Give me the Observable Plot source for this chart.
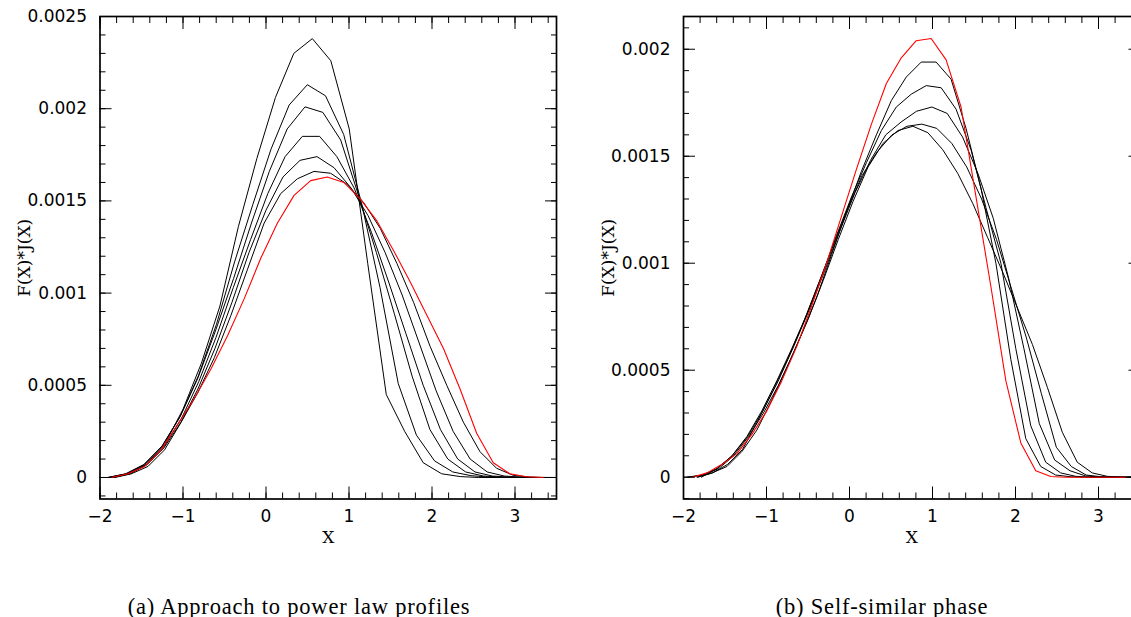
<!DOCTYPE html>
<html><head><meta charset="utf-8">
<script src="https://cdn.jsdelivr.net/npm/d3@7"></script>
<script src="https://cdn.jsdelivr.net/npm/@observablehq/plot@0.6"></script>
<style>
html,body{margin:0;padding:0;background:#fff;overflow:hidden;width:1131px;height:617px;position:relative;}
#a,#b{position:absolute;top:0;}
#a{left:0;width:570px}
#b{left:570px;width:600px}
#a svg,#b svg{max-width:none !important;height:560px !important;}
.cap{position:absolute;font-family:"Liberation Serif",serif;font-size:22.5px;letter-spacing:0.8px;line-height:1;color:#000;white-space:nowrap;transform:translateX(-50%);}
</style></head><body>
<div id="a"></div><div id="b"></div>
<div class="cap" style="left:299px;top:596px">(a) Approach to power law profiles</div>
<div class="cap" style="left:882px;top:596px">(b) Self-similar phase</div>
<script>
// ---- tick values ----
const xMajor = [-2, -1, 0, 1, 2, 3];
const leftYMajor = [0, 0.0005, 0.001, 0.0015, 0.002, 0.0025];
const rightYMajor = [0, 0.0005, 0.001, 0.0015, 0.002];
const captions = ["(a) Approach to power law profiles", "(b) Self-similar phase"];
const yLabel = "F(X)*J(X)";
const xLabel = "X";

// ---- panel (a): approach to power law profiles ----
const a1x = [-1.89,-1.67,-1.446,-1.22,-1.0,-0.778,-0.555,-0.333,-0.11,0.113,0.335,0.558,0.781,1.003,1.226,1.449,1.671,1.894,2.117,2.34,2.56,2.78,3.0,3.23,3.45];
const a1y = [0,0.00002,0.00007,0.00018,0.00037,0.00062,0.00093,0.00136,0.00173,0.00206,0.0023,0.00238,0.00226,0.00189,0.00116,0.00045,0.00025,0.00008,0.00002,0.000005,0,0,0,0,0];
const a2x = [-1.911,-1.692,-1.473,-1.254,-1.035,-0.816,-0.597,-0.378,-0.159,0.06,0.279,0.498,0.717,0.936,1.155,1.374,1.593,1.812,2.031,2.25,2.469,2.688,2.907,3.126,3.345];
const a2y = [0,0.00002,0.00007,0.00017,0.00033,0.00055,0.00083,0.00117,0.00148,0.00178,0.00202,0.00213,0.00207,0.00186,0.00148,0.00103,0.00051,0.00023,0.00009,0.00003,0.00001,0.000002,0,0,0];
const a3x = [-1.895,-1.68,-1.465,-1.25,-1.035,-0.82,-0.605,-0.39,-0.175,0.04,0.255,0.47,0.685,0.9,1.115,1.33,1.545,1.76,1.975,2.19,2.405,2.62,2.835,3.05,3.265,3.48];
const a3y = [0,0.00002,0.00007,0.00017,0.00033,0.00054,0.0008,0.00108,0.00138,0.00166,0.00189,0.00201,0.00198,0.00183,0.00153,0.00122,0.00089,0.00055,0.00026,0.0001,0.00003,0.000008,0.000002,0,0,0];
const a4x = [-1.85,-1.642,-1.434,-1.226,-1.018,-0.81,-0.602,-0.394,-0.186,0.022,0.23,0.438,0.646,0.854,1.062,1.27,1.478,1.686,1.894,2.102,2.31,2.518,2.726,2.934,3.142,3.35];
const a4y = [0,0.00002,0.00007,0.00017,0.00032,0.00052,0.00076,0.00103,0.00129,0.00154,0.00174,0.00185,0.00185,0.00174,0.00157,0.00133,0.00106,0.00078,0.0005,0.00026,0.0001,0.00003,0.000008,0.000002,0,0];
const a5x = [-1.845,-1.64,-1.435,-1.23,-1.025,-0.82,-0.615,-0.41,-0.205,0,0.205,0.41,0.615,0.82,1.025,1.23,1.435,1.64,1.845,2.05,2.255,2.46,2.665,2.87,3.075,3.28,3.485];
const a5y = [0,0.00002,0.00007,0.00016,0.0003,0.00048,0.0007,0.00095,0.00122,0.00145,0.00163,0.00172,0.00174,0.00168,0.00157,0.00142,0.00122,0.00099,0.00073,0.00047,0.00025,0.0001,0.00003,0.000008,0.000002,0,0];
const a6x = [-1.822,-1.622,-1.422,-1.222,-1.022,-0.822,-0.622,-0.422,-0.222,-0.022,0.178,0.378,0.578,0.778,0.978,1.178,1.378,1.578,1.778,1.978,2.178,2.378,2.578,2.778,2.978,3.178,3.378];
const a6y = [0,0.00002,0.00006,0.00015,0.0003,0.00046,0.00065,0.00088,0.00113,0.00138,0.00154,0.00162,0.00166,0.00165,0.00159,0.00149,0.00135,0.00116,0.00095,0.00071,0.0005,0.0003,0.00014,0.00005,0.000012,0.000002,0];
const aRedX = [-1.862,-1.662,-1.462,-1.262,-1.062,-0.862,-0.662,-0.462,-0.262,-0.062,0.138,0.338,0.538,0.738,0.938,1.138,1.338,1.538,1.738,1.938,2.138,2.338,2.538,2.738,2.938,3.138,3.338];
const aRedY = [0,0.00002,0.00006,0.00015,0.00029,0.00043,0.00059,0.00077,0.00097,0.00119,0.00138,0.00153,0.00161,0.00163,0.0016,0.00151,0.00139,0.00123,0.00106,0.00088,0.0007,0.00048,0.00024,0.00008,0.00002,0.000004,0];

// ---- panel (b): self-similar phase ----
const b1x = [-1.836,-1.656,-1.476,-1.296,-1.116,-0.936,-0.756,-0.576,-0.396,-0.216,-0.036,0.144,0.324,0.504,0.684,0.864,1.044,1.224,1.404,1.584,1.764,1.944,2.124,2.304,2.484,2.664,2.844,3.024,3.204,3.384];
const b1y = [0,0.00002,0.00005,0.00012,0.00022,0.00036,0.00051,0.00067,0.00084,0.00104,0.00124,0.00143,0.0016,0.00176,0.00187,0.00194,0.00194,0.00186,0.00163,0.00135,0.001,0.00055,0.00018,0.00005,0.00001,0.000002,0,0,0,0];
const b2x = [-1.956,-1.776,-1.596,-1.416,-1.236,-1.056,-0.876,-0.696,-0.516,-0.336,-0.156,0.024,0.204,0.384,0.564,0.744,0.924,1.104,1.284,1.464,1.644,1.824,2.004,2.184,2.364,2.544,2.724,2.904,3.084,3.264,3.444];
const b2y = [0,0.00001,0.00004,0.0001,0.00019,0.00031,0.00045,0.0006,0.00076,0.00094,0.00113,0.00131,0.00147,0.00162,0.00173,0.00179,0.00183,0.00182,0.00172,0.00153,0.00126,0.001,0.0006,0.00024,0.00007,0.00002,0.000004,0,0,0,0];
const b3x = [-1.783,-1.598,-1.413,-1.228,-1.043,-0.858,-0.673,-0.488,-0.303,-0.118,0.067,0.252,0.437,0.622,0.807,0.992,1.177,1.362,1.547,1.732,1.917,2.102,2.287,2.472,2.657,2.842,3.027,3.212,3.397];
const b3y = [0,0.00004,0.0001,0.00019,0.00031,0.00045,0.00061,0.00078,0.00096,0.00115,0.00133,0.00148,0.0016,0.00166,0.00171,0.00173,0.0017,0.00159,0.00142,0.00121,0.00093,0.0006,0.00025,0.00008,0.00003,0.000006,0,0,0];
const b4x = [-1.828,-1.648,-1.468,-1.288,-1.108,-0.928,-0.748,-0.568,-0.388,-0.208,-0.028,0.152,0.332,0.512,0.692,0.872,1.052,1.232,1.412,1.592,1.772,1.952,2.132,2.312,2.492,2.672,2.852,3.032,3.212,3.392];
const b4y = [0,0.00002,0.00006,0.00013,0.00026,0.0004,0.00055,0.00071,0.00089,0.00107,0.00125,0.00141,0.00152,0.0016,0.00164,0.00165,0.00163,0.00156,0.00145,0.0013,0.00111,0.00088,0.00065,0.00039,0.00014,0.00005,0.00001,0.000002,0,0];
const b5x = [-1.936,-1.756,-1.576,-1.396,-1.216,-1.036,-0.856,-0.676,-0.496,-0.316,-0.136,0.044,0.224,0.404,0.584,0.764,0.944,1.124,1.304,1.484,1.664,1.844,2.024,2.204,2.384,2.564,2.744,2.924,3.104,3.284,3.464];
const b5y = [0,0.00001,0.00004,0.0001,0.00019,0.0003,0.00043,0.00058,0.00074,0.00092,0.00111,0.00129,0.00145,0.00156,0.00162,0.00164,0.00161,0.00153,0.00142,0.00128,0.00112,0.00096,0.00079,0.00062,0.00042,0.00021,0.00007,0.00002,0.000004,0,0];
const bRedX = [-1.896,-1.716,-1.536,-1.356,-1.176,-0.996,-0.816,-0.636,-0.456,-0.276,-0.096,0.084,0.264,0.444,0.624,0.804,0.984,1.164,1.344,1.524,1.704,1.884,2.064,2.244,2.424,2.604,2.784,2.964,3.144,3.324];
const bRedY = [0,0.00002,0.00006,0.00011,0.0002,0.00031,0.00045,0.00061,0.0008,0.001,0.00122,0.00144,0.00165,0.00184,0.00196,0.00204,0.00205,0.00195,0.00173,0.00131,0.00089,0.00045,0.00016,0.00003,0.000003,0,0,0,0,0];

const rows = (xs, ys) => xs.map((x, i) => ({x, y: ys[i]}));
const fmtX = d => d < 0 ? "\u2212" + (-d) : String(d);
const fmtY = d => String(d);

function panel({black, red, yDomain, yMajor, yMinorN, width, marginLeft, marginRight}) {
  const xMinor = d3.range(-10, 18).map(i => +(i * 0.2).toFixed(1));
  const yMinor = d3.range(-1, yMinorN).map(i => +(i * 0.0001).toFixed(4));
  const tick = (axis, data, anchor, size) => axis(data, {anchor, tickSize: size, fill: "none", stroke: "black", strokeWidth: 1, label: null});
  return Plot.plot({
    width, height: 560, marginLeft, marginRight, marginTop: 16, marginBottom: 61.5,
    x: {domain: [-2, 3.5]},
    y: {domain: yDomain},
    style: {fontFamily: "DejaVu Sans", fontSize: "17px", color: "black", background: "transparent", overflow: "visible"},
    marks: [
      ...black.map(([xs, ys]) => Plot.line(rows(xs, ys), {x: "x", y: "y", stroke: "black", strokeWidth: 1, clip: true})),
      Plot.line(rows(red[0], red[1]), {x: "x", y: "y", stroke: "#f00", strokeWidth: 1.1, clip: true}),
      tick(Plot.axisX, xMajor, "bottom", -12),
      tick(Plot.axisX, xMinor, "bottom", -6),
      tick(Plot.axisX, xMajor, "top", -12),
      tick(Plot.axisX, xMinor, "top", -6),
      tick(Plot.axisY, yMajor, "left", -12),
      tick(Plot.axisY, yMinor, "left", -6),
      tick(Plot.axisY, yMajor, "right", -12),
      tick(Plot.axisY, yMinor, "right", -6),
      Plot.axisX(xMajor, {anchor: "bottom", tickSize: 0, tickPadding: 11, label: null, tickFormat: fmtX}),
      Plot.axisY(yMajor, {anchor: "left", tickSize: 0, tickPadding: 13, label: null, tickFormat: fmtY}),
      Plot.frame({stroke: "black", strokeWidth: 1.7}),
      Plot.text([xLabel], {text: d => d, frameAnchor: "bottom", dy: 44, textAnchor: "middle", fontFamily: "DejaVu Serif", fontSize: 17}),
      Plot.text([yLabel], {text: d => d, frameAnchor: "left", dx: -75, rotate: -90, textAnchor: "middle", fontFamily: "DejaVu Serif", fontSize: 17})
    ]
  });
}

document.getElementById("a").append(panel({
  black: [[a1x, a1y], [a2x, a2y], [a3x, a3y], [a4x, a4y], [a5x, a5y], [a6x, a6y]],
  red: [aRedX, aRedY],
  yDomain: [-0.0001166, 0.0025], yMajor: leftYMajor, yMinorN: 26,
  width: 570, marginLeft: 99.5, marginRight: 14
}));
document.getElementById("b").append(panel({
  black: [[b1x, b1y], [b2x, b2y], [b3x, b3y], [b4x, b4y], [b5x, b5y]],
  red: [bRedX, bRedY],
  yDomain: [-0.000102, 0.002153], yMajor: rightYMajor, yMinorN: 22,
  width: 580, marginLeft: 113, marginRight: 10.5
}));
</script>
</body></html>
